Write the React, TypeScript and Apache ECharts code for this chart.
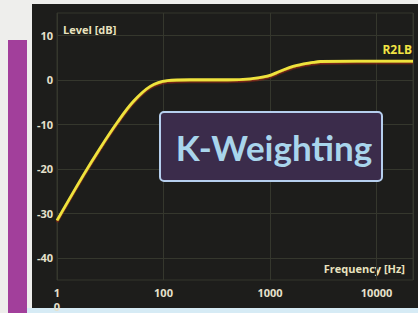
import React, { useEffect, useRef } from "react";
import * as echarts from "echarts";

const freqHz = [10, 17.5, 25, 37, 52, 75, 108, 177, 400, 650, 940, 1240, 1640, 2540, 2950, 22000];
const levelDb = [-31.6, -21.6, -15.6, -9.5, -4.9, -1.5, -0.2, 0, 0, 0.2, 0.8, 1.9, 3.0, 3.9, 4.1, 4.2];
const xTickLabels = [10, 100, 1000, 10000];
const yTickLabels = [-40, -30, -20, -10, 0, 10];
const seriesName = "R2LB";
const titleText = "K-Weighting";
const yAxisTitle = "Level [dB]";
const xAxisTitle = "Frequency [Hz]";

export default function App() {
  const ref = useRef<HTMLDivElement>(null);
  useEffect(() => {
    if (!ref.current) return;
    const chart = echarts.init(ref.current, null, { renderer: "svg" });
    const gridCol = "#35372d";
    const labelCol = "#e6e1cc";
    chart.setOption({
      animation: false,
      backgroundColor: "transparent",
      grid: {
        left: 57,
        right: 5,
        top: 13,
        bottom: 31,
        show: true,
        borderColor: gridCol,
        borderWidth: 1,
      },
      xAxis: {
        type: "log",
        logBase: 10,
        min: 10,
        max: 22000,
        axisLine: { show: false },
        axisTick: { show: false },
        splitLine: { show: true, lineStyle: { color: gridCol, width: 1 } },
        axisLabel: {
          color: labelCol,
          fontWeight: "bold",
          fontSize: 11,
          fontFamily: "Open Sans",
          margin: 5,
          lineHeight: 14,
          verticalAlign: "top",
          formatter: (v: number) => {
            const r = Math.round(v);
            if (!xTickLabels.includes(r)) return "";
            return r === 10 ? "1\n0" : String(r);
          },
        },
      },
      yAxis: {
        type: "value",
        min: -45,
        max: 15,
        interval: 5,
        axisLine: { show: false },
        axisTick: { show: false },
        splitLine: {
          show: true,
          lineStyle: { color: ["rgba(0,0,0,0)", gridCol], width: 1 },
        },
        axisLabel: {
          color: labelCol,
          fontWeight: "bold",
          fontSize: 11,
          fontFamily: "Open Sans",
          margin: 4,
          padding: [0, 0, 5, 0],
          formatter: (v: number) => {
            const r = Math.round(v);
            return yTickLabels.includes(r) ? String(r) : "";
          },
        },
      },
      series: [
        {
          type: "line",
          name: seriesName,
          data: freqHz.map((f, i) => [f, levelDb[i]]),
          smooth: 0.35,
          showSymbol: false,
          lineStyle: {
            color: "#efe23c",
            width: 2.8,
            shadowColor: "rgba(150,40,20,0.85)",
            shadowOffsetY: 1.5,
            shadowBlur: 0,
          },
          z: 3,
        },
      ],
      graphic: [
        {
          type: "text",
          left: 63,
          top: 24,
          style: {
            text: yAxisTitle,
            fill: "#e9e2bf",
            font: "bold 11px 'Open Sans'",
          },
        },
        {
          type: "text",
          right: 6,
          top: 43,
          style: {
            text: seriesName,
            fill: "#f2e444",
            font: "bold 12px 'Open Sans'",
          },
        },
        {
          type: "text",
          right: 13,
          top: 263,
          style: {
            text: xAxisTitle,
            fill: "#e9e2bf",
            font: "bold 11px 'Open Sans'",
          },
        },
        {
          type: "rect",
          shape: { x: 160, y: 112, width: 222, height: 69, r: 4 },
          style: { fill: "#3b2c4b", stroke: "#b6cfee", lineWidth: 2 },
          z: 10,
        },
        {
          type: "text",
          x: 274,
          y: 147,
          style: {
            text: titleText,
            fill: "#a9d5ec",
            font: "bold 35px Lato",
            align: "center",
            verticalAlign: "middle",
          },
          z: 11,
        },
      ],
    });
    return () => chart.dispose();
  }, []);

  return (
    <div style={{ position: "fixed", left: 0, top: 0, width: 418, height: 313, background: "#eeeeec", overflow: "hidden" }}>
      <style>{"text { font-variant-ligatures: none; font-feature-settings: 'liga' 0; }"}</style>
      <div style={{ position: "absolute", left: 8, top: 40, width: 19, height: 273, background: "#a23f9b" }} />
      <div style={{ position: "absolute", left: 32, top: 4, width: 386, height: 304, background: "#1d1d1b" }} />
      <div style={{ position: "absolute", left: 27, top: 308, width: 391, height: 5, background: "#d6ebf5" }} />
      <div ref={ref} style={{ position: "absolute", left: 0, top: 0, width: 418, height: 313 }} />
    </div>
  );
}
